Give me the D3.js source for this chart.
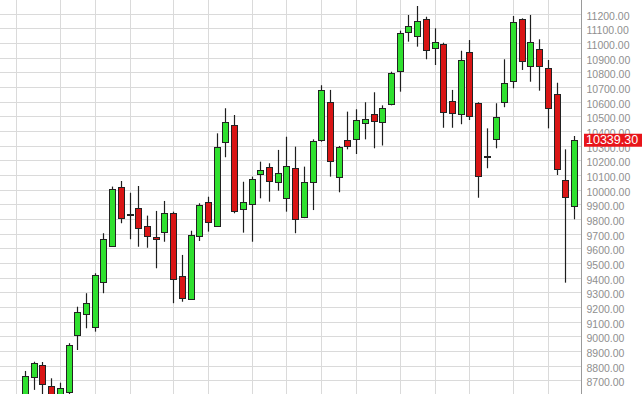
<!DOCTYPE html>
<html>

<head>
    <meta charset="utf-8">
    <title>Weekly candles</title>
</head>
<style>
body {
    margin: 0;
    background-color: #fff;
}

.tick text {
    font-family: "Liberation Sans", Arial, sans-serif;
}
</style>

<body>
    <div id="graphic"></div>
    <script src="https://cdnjs.cloudflare.com/ajax/libs/d3/7.8.5/d3.min.js"></script>
    <script>

    // weekly bars, oldest first
    var opens = [8560, 8720, 8802, 8661, 8590, 8618, 9008, 9150, 9061, 9368, 9617, 10015, 9835, 9872, 9753, 9679,
        9713, 9838, 9411, 9254, 9685, 9917, 9753, 10326, 10440, 9865, 9901, 10104, 10156, 10049, 9942, 10149,
        9815, 10049, 10338, 10595, 10088, 10338, 10342, 10452, 10515, 10458, 10583, 10810, 11076, 11049, 11160, 10967,
        10990, 10603, 10513, 10935, 10588, 10226, 10342, 10595, 10742, 11160, 10842, 10958, 10826, 10651, 10065, 9888];

    var highs = [8763, 8826, 8824, 8713, 8683, 8952, 9201, 9293, 9429, 9702, 10020, 10058, 9978, 10024, 9822, 9854,
        9922, 9849, 9554, 9719, 9906, 9951, 10383, 10554, 10508, 10053, 10088, 10190, 10179, 10270, 10360, 10292,
        10156, 10342, 10711, 10679, 10297, 10531, 10547, 10595, 10663, 10574, 10803, 11083, 11190, 11251, 11178, 11099,
        11001, 10679, 10946, 11019, 10595, 10417, 10588, 10888, 11183, 11167, 11190, 11024, 10883, 10728, 10274, 10365];

    var lows = [8540, 8634, 8580, 8560, 8570, 8605, 8906, 9054, 9031, 9293, 9610, 9770, 9661, 9610, 9603, 9463,
        9644, 9225, 9235, 9247, 9649, 9713, 9745, 10220, 9838, 9706, 9644, 9940, 9917, 9992, 9849, 9702,
        9805, 9860, 10326, 10088, 9981, 10274, 10242, 10342, 10281, 10300, 10574, 10667, 11008, 10974, 10888, 10849,
        10421, 10421, 10445, 10474, 9944, 10145, 10281, 10561, 10690, 10815, 10735, 10674, 10417, 10099, 9365, 9797];

    var closes = [8729, 8820, 8674, 8590, 8645, 8940, 9163, 9225, 9420, 9663, 10002, 9804, 9830, 9740, 9685, 9663,
        9838, 9388, 9259, 9690, 9895, 9781, 10288, 10462, 9856, 9917, 10070, 10133, 10060, 10111, 10162, 9797,
        10049, 10331, 10679, 10195, 10288, 10297, 10474, 10483, 10467, 10558, 10796, 11065, 11117, 11151, 10951, 11008,
        10526, 10520, 10883, 10503, 10094, 10222, 10497, 10728, 11144, 10876, 11004, 10842, 10558, 10140, 9951, 10339.3];

    // bar index of the first week of each month (vertical grid)
    var monthStarts = [-1, 4, 8, 12, 17, 21, 26, 30, 34, 38, 43, 47, 51, 56, 60];

    var priceTicks = d3.range(8700, 11201, 100);
    var lastPrice = closes[closes.length - 1];

    var w = 643;
    var h = 394;
    var plotRight = 581;

    var bars = opens.map(function(o, i) {
        return { i: i, o: o, h: highs[i], l: lows[i], c: closes[i] };
    });

    var svg = d3.select("#graphic")
        .append("svg")
        .attr("width", w)
        .attr("height", h)
        .style("display", "block");

    var x = d3.scaleLinear()
        .domain([0, bars.length - 1])
        .range([25, 574]);

    var y = d3.scaleLinear()
        .domain([8700, 11200])
        .range([380.2, 13.5]);

    function px(v) {
        return Math.round(v) + 0.5;
    }

    // grid
    var grid = svg.append("g");

    grid.selectAll("line.h")
        .data(priceTicks)
        .enter().append("line")
        .attr("class", "h")
        .attr("x1", 0)
        .attr("x2", plotRight)
        .attr("y1", function(d) { return px(y(d)); })
        .attr("y2", function(d) { return px(y(d)); })
        .attr("stroke", "#dadada")
        .attr("stroke-width", 1);

    grid.selectAll("line.v")
        .data(monthStarts)
        .enter().append("line")
        .attr("class", "v")
        .attr("x1", function(d) { return px(x(d)); })
        .attr("x2", function(d) { return px(x(d)); })
        .attr("y1", 0)
        .attr("y2", h)
        .attr("stroke", "#dadada")
        .attr("stroke-width", 1);

    // candles
    var candle = svg.append("g")
        .selectAll("g")
        .data(bars)
        .enter().append("g");

    candle.append("line")
        .attr("x1", function(d) { return px(x(d.i)); })
        .attr("x2", function(d) { return px(x(d.i)); })
        .attr("y1", function(d) { return y(d.h); })
        .attr("y2", function(d) { return y(d.l); })
        .attr("stroke", "#1e1e1e")
        .attr("stroke-width", 1.2);

    candle.append("rect")
        .attr("x", function(d) { return Math.round(x(d.i)) - 2.5; })
        .attr("width", 6)
        .attr("y", function(d) { return Math.round(y(Math.max(d.o, d.c))) + 0.5; })
        .attr("height", function(d) {
            return Math.max(1, Math.round(y(Math.min(d.o, d.c))) - Math.round(y(Math.max(d.o, d.c))));
        })
        .attr("fill", function(d) {
            return d.c >= d.o ? "#2fe02f" : "#d91515";
        })
        .attr("stroke", "#222")
        .attr("stroke-width", 1);

    // price axis
    svg.append("rect")
        .attr("x", plotRight)
        .attr("y", 0)
        .attr("width", w - plotRight)
        .attr("height", h)
        .attr("fill", "#fff");

    var yAxis = d3.axisRight(y)
        .tickValues(priceTicks)
        .tickFormat(d3.format(".2f"))
        .tickSize(0)
        .tickPadding(5);

    var axisG = svg.append("g")
        .attr("transform", "translate(" + px(plotRight) + ",0)")
        .call(yAxis);

    axisG.select(".domain")
        .attr("d", "M0,0V" + h)
        .attr("stroke", "#9a9a9a");

    axisG.selectAll(".tick text")
        .attr("dy", "0.55em")
        .attr("fill", "#8f8f8f")
        .style("font-size", "10.5px");

    // last price marker
    var lp = svg.append("g")
        .attr("transform", "translate(584," + y(lastPrice) + ")");

    lp.append("rect")
        .attr("x", 0)
        .attr("y", -6)
        .attr("width", 58)
        .attr("height", 13)
        .attr("fill", "#e8141a");

    lp.append("text")
        .attr("x", 2)
        .attr("y", 0)
        .attr("dy", "0.36em")
        .attr("fill", "#fff")
        .style("font-family", "'Liberation Sans', Arial, sans-serif")
        .style("font-size", "12.5px")
        .text(d3.format(".2f")(lastPrice));

    </script>
</body>
</html>
